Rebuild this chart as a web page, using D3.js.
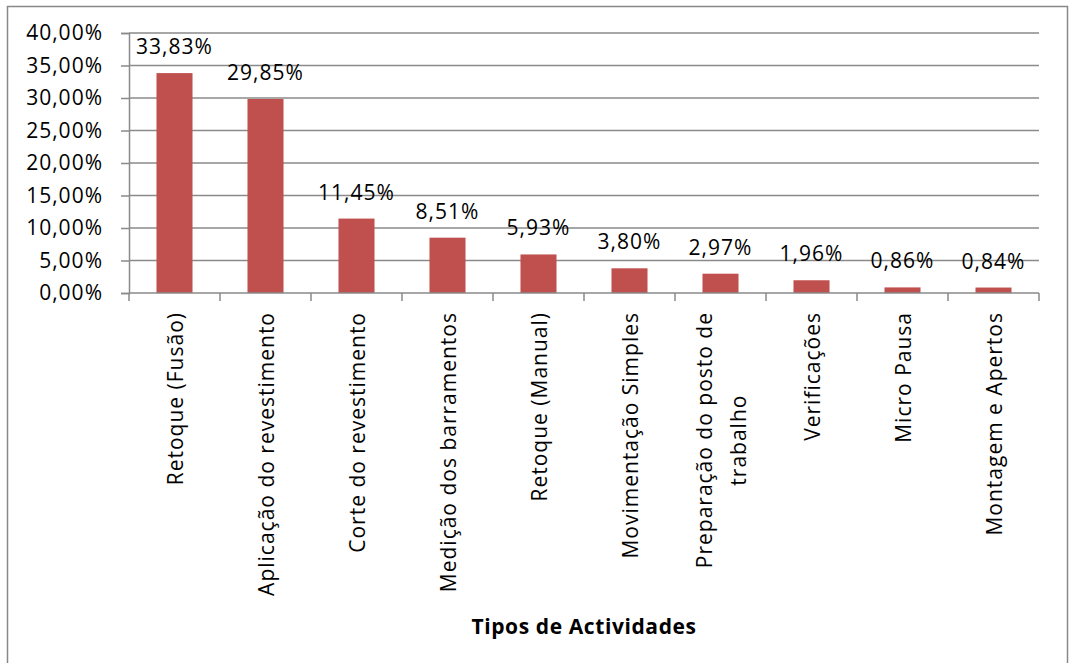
<!DOCTYPE html>
<html><head><meta charset="utf-8">
<script src="https://cdn.jsdelivr.net/npm/d3@7"></script>
<style>
body{margin:0;background:#fff;}
text{font-family:"Open Sans",sans-serif;fill:#000;}
</style></head>
<body><svg id="c" width="1069" height="663"></svg>
<script>
const categories = ["Retoque (Fusão)","Aplicação do revestimento","Corte do revestimento","Medição dos barramentos","Retoque (Manual)","Movimentação Simples","Preparação do posto de|trabalho","Verificações","Micro Pausa","Montagem e Apertos"];
const values = [33.83,29.85,11.45,8.51,5.93,3.80,2.97,1.96,0.86,0.84];
const yTicks = [0,5,10,15,20,25,30,35,40];
const xTitle = "Tipos de Actividades";

const svg = d3.select("#c");
const L=129, R=1039, T=33, B=293;
const FS = "21px", LS = "1px";
const fmt = v => v.toFixed(2).replace(".", ",") + "%";

svg.append("rect").attr("x",7.5).attr("y",6.5).attr("width",1060).attr("height",670)
  .attr("fill","#fff").attr("stroke","#888").attr("stroke-width",1.5);

const p = 0.604;
const x = d3.scaleBand().domain(categories).range([L,R]).paddingInner(p).paddingOuter(p/2);
const y = d3.scaleLinear().domain([0,40]).range([B,T]);
const step = x.step();

// gridlines
svg.append("g").selectAll("line").data(yTicks.filter(d=>d>0)).join("line")
  .attr("x1",L).attr("x2",R).attr("y1",d=>y(d)).attr("y2",d=>y(d))
  .attr("stroke","#8a8a8a").attr("stroke-width",1.5);

// y axis
const ya = svg.append("g").attr("transform",`translate(${L},0)`)
  .call(d3.axisLeft(y).tickValues(yTicks).tickSize(8).tickPadding(18).tickFormat(fmt));
ya.select(".domain").attr("stroke","#8a8a8a").attr("stroke-width",1.5);
ya.selectAll(".tick line").attr("stroke","#8a8a8a").attr("stroke-width",1.5);
ya.selectAll("text").style("font-size",FS).style("letter-spacing",LS)
  .style("font-family","'Open Sans',sans-serif").attr("fill","#000");

// bars
svg.append("g").selectAll("rect").data(values).join("rect")
  .attr("x",(d,i)=>x(categories[i])).attr("width",x.bandwidth())
  .attr("y",d=>y(d)).attr("height",d=>B-y(d)).attr("fill","#C0504D");

// x axis line and ticks
svg.append("line").attr("x1",L).attr("x2",R).attr("y1",B).attr("y2",B)
  .attr("stroke","#8a8a8a").attr("stroke-width",1.5);
const bounds = categories.map(c=>x(c)-step*p/2).concat([R]);
svg.append("g").selectAll("line").data(bounds).join("line")
  .attr("x1",d=>d).attr("x2",d=>d).attr("y1",B).attr("y2",B+8)
  .attr("stroke","#8a8a8a").attr("stroke-width",1.5);

// data labels
svg.append("g").selectAll("text").data(values).join("text")
  .attr("x",(d,i)=>x(categories[i])+x.bandwidth()/2).attr("y",d=>y(d)-19)
  .attr("text-anchor","middle").style("font-size",FS).style("letter-spacing",LS)
  .text(fmt);

// category labels
const cl = svg.append("g");
categories.forEach((c,i)=>{
  const lines = c.split("|");
  const cx = x(c)+x.bandwidth()/2;
  const lh = 34;
  const t = cl.append("text").attr("transform",`translate(${cx},312) rotate(-90)`)
    .attr("text-anchor", lines.length>1 ? "middle" : "end")
    .style("font-size",FS).style("letter-spacing",LS);
  lines.forEach((ln,j)=>{
    const off = (j-(lines.length-1)/2)*lh + 8;
    t.append("tspan").attr("x", 0).attr("y",off).text(ln);
  });
  if(lines.length>1){
    const w = t.node().getBBox().width;
    t.attr("transform",`translate(${cx},${312+w/2}) rotate(-90)`);
  }
});

// axis title
svg.append("text").attr("x",(L+R)/2).attr("y",634).attr("text-anchor","middle")
  .style("font-size","21px").style("font-weight","bold").style("letter-spacing","0.6px").text(xTitle);
</script></body></html>
